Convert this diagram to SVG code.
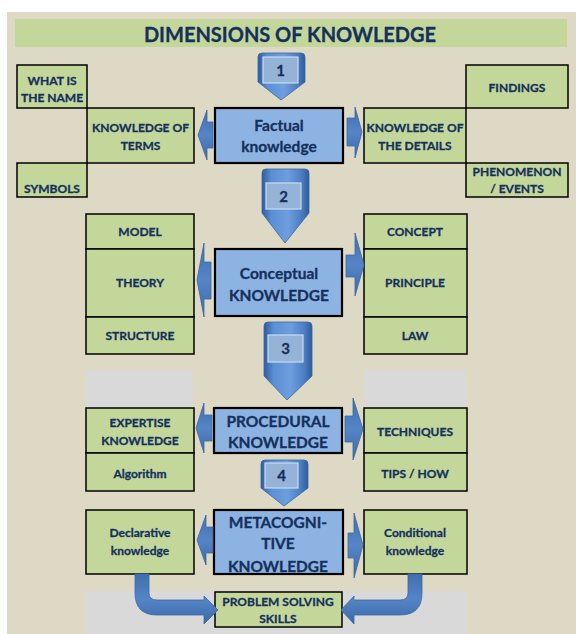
<svg xmlns="http://www.w3.org/2000/svg" width="576" height="634" viewBox="0 0 576 634">
<defs>
<linearGradient id="dg" x1="0" y1="0" x2="1" y2="0">
<stop offset="0" stop-color="#2e5c9c"/>
<stop offset="0.2" stop-color="#5a8fd4"/>
<stop offset="0.55" stop-color="#6d9fe0"/>
<stop offset="0.85" stop-color="#4a7cc0"/>
<stop offset="1" stop-color="#2e5c9c"/>
</linearGradient>
<linearGradient id="sg" x1="0" y1="0" x2="0" y2="1">
<stop offset="0" stop-color="#3f6fae"/>
<stop offset="0.5" stop-color="#5585c6"/>
<stop offset="1" stop-color="#3a69a8"/>
</linearGradient>
<style>
.t{font-family:Lato,"Liberation Sans",sans-serif;font-weight:bold;fill:#15305c;stroke:#15305c;stroke-width:0.3;text-anchor:middle}
.s{font-size:12px}
.m{font-size:15.5px}
.g{fill:#c4d79b;stroke:#000;stroke-width:1.5}
.b{fill:#8db3e2;stroke:#000;stroke-width:2.2}
.gr{fill:#d9d9d9}
.da{fill:url(#dg);stroke:#3a68a6;stroke-width:0.8}
.lab{fill:#95b3d7;stroke:#c9daf0;stroke-width:1.2}
.n{font-size:15px}
.sa{fill:url(#sg);stroke:#3d6aa5;stroke-width:0.8}
</style>
</defs>
<rect x="0" y="0" width="576" height="634" fill="#ffffff"/>
<rect x="7" y="12" width="569" height="622" fill="#ddd9c4"/>
<rect class="gr" x="86" y="370" width="107" height="37"/>
<rect class="gr" x="364" y="370" width="102" height="37"/>
<rect class="gr" x="86" y="591" width="380" height="43"/>

<g id="title">
<rect x="15" y="19" width="552" height="28" fill="#c4d79b"/>
<text class="t" x="290" y="42" font-size="20">DIMENSIONS OF KNOWLEDGE</text>
</g>

<g id="what-is-the-name"><rect class="g" x="17" y="65" width="70" height="43"/><text class="t s" x="52" y="85">WHAT IS</text><text class="t s" x="52" y="102">THE NAME</text></g>
<g id="knowledge-of-terms"><rect class="g" x="87" y="108" width="107" height="55"/><text class="t s" x="140.5" y="132">KNOWLEDGE OF</text><text class="t s" x="140.5" y="150">TERMS</text></g>
<g id="symbols"><rect class="g" x="17" y="163" width="70" height="34"/><text class="t s" x="52" y="193">SYMBOLS</text></g>
<g id="findings"><rect class="g" x="466" y="65" width="102" height="43"/><text class="t s" x="517" y="92">FINDINGS</text></g>
<g id="knowledge-of-details"><rect class="g" x="364" y="108" width="102" height="55"/><text class="t s" x="415" y="132">KNOWLEDGE OF</text><text class="t s" x="415" y="150">THE DETAILS</text></g>
<g id="phenomenon"><rect class="g" x="466" y="163" width="102" height="34"/><text class="t s" x="517" y="176">PHENOMENON</text><text class="t s" x="517" y="193">/ EVENTS</text></g>
<g id="factual"><rect class="b" x="215" y="108" width="128" height="55"/><text class="t m" x="279" y="131">Factual</text><text class="t m" x="279" y="152">knowledge</text></g>

<g id="model"><rect class="g" x="86" y="214" width="108" height="35"/><text class="t s" x="140" y="236">MODEL</text></g>
<g id="theory"><rect class="g" x="86" y="249" width="108" height="68"/><text class="t s" x="140" y="287">THEORY</text></g>
<g id="structure"><rect class="g" x="86" y="317" width="108" height="37"/><text class="t s" x="140" y="340">STRUCTURE</text></g>
<g id="concept"><rect class="g" x="364" y="214" width="103" height="35"/><text class="t s" x="415" y="236">CONCEPT</text></g>
<g id="principle"><rect class="g" x="364" y="249" width="103" height="68"/><text class="t s" x="415" y="287">PRINCIPLE</text></g>
<g id="law"><rect class="g" x="364" y="317" width="103" height="37"/><text class="t s" x="415" y="340">LAW</text></g>
<g id="conceptual"><rect class="b" x="215" y="249" width="127" height="67"/><text class="t m" x="279" y="279">Conceptual</text><text class="t m" x="279" y="301">KNOWLEDGE</text></g>

<g id="expertise"><rect class="g" x="86" y="408" width="108" height="45"/><text class="t s" x="140" y="427">EXPERTISE</text><text class="t s" x="140" y="445">KNOWLEDGE</text></g>
<g id="algorithm"><rect class="g" x="86" y="453" width="108" height="38"/><text class="t s" x="140" y="478">Algorithm</text></g>
<g id="techniques"><rect class="g" x="364" y="408" width="103" height="45"/><text class="t s" x="415" y="436">TECHNIQUES</text></g>
<g id="tips-how"><rect class="g" x="364" y="453" width="103" height="38"/><text class="t s" x="415" y="478">TIPS / HOW</text></g>
<g id="procedural"><rect class="b" x="214" y="408" width="128" height="45"/><text class="t m" x="278" y="427">PROCEDURAL</text><text class="t m" x="278" y="448">KNOWLEDGE</text></g>

<g id="declarative"><rect class="g" x="86" y="510" width="108" height="64"/><text class="t s" x="140" y="537">Declarative</text><text class="t s" x="140" y="555">knowledge</text></g>
<g id="conditional"><rect class="g" x="364" y="510" width="103" height="64"/><text class="t s" x="415" y="537">Conditional</text><text class="t s" x="415" y="555">knowledge</text></g>
<g id="metacognitive"><rect class="b" x="214" y="510" width="129" height="64"/><text class="t m" x="278" y="528">METACOGNI-</text><text class="t m" x="278" y="549">TIVE</text><text class="t m" x="278" y="572">KNOWLEDGE</text></g>
<g id="problem-solving"><rect class="g" x="215" y="592" width="127" height="35"/><text class="t s" x="278" y="606">PROBLEM SOLVING</text><text class="t s" x="278" y="623">SKILLS</text></g>

<g id="connectors">
<g id="step1"><path class="da" d="M258,57 Q258,53 262,53 L301,53 Q305,53 305,57 L305,82 L281,100 L258,82 Z"/><rect class="lab" x="263" y="57" width="35" height="26"/><text class="t n" x="280.5" y="76">1</text></g>
<g id="step2"><path class="da" d="M262,173 Q262,169 266,169 L305,169 Q309,169 309,173 L309,213 L285,243 L262,213 Z"/><rect class="lab" x="266" y="183" width="35" height="26"/><text class="t n" x="283.5" y="202">2</text></g>
<g id="step3"><path class="da" d="M264,326 Q264,322 268,322 L308,322 Q312,322 312,326 L312,376 L287,400 L264,376 Z"/><rect class="lab" x="268" y="335" width="35" height="27"/><text class="t n" x="285.5" y="354">3</text></g>
<g id="step4"><path class="da" d="M261,464 Q261,460 265,460 L304,460 Q308,460 308,464 L308,488 L284,506 L261,488 Z"/><rect class="lab" x="265" y="463" width="33" height="25"/><text class="t n" x="281.5" y="481">4</text></g>

<path class="sa" d="M198,135 L207,110 L207,122 L213,122 L213,148 L207,148 L207,160 Z"/>
<path class="sa" d="M362,132 L355,107 L355,118 L347,118 L347,146 L355,146 L355,158 Z"/>
<path class="sa" d="M197,280 L204,243 L204,262 L211,262 L211,299 L204,299 L204,317 Z"/>
<path class="sa" d="M364,265 L355,233 L355,255 L346,255 L346,277 L355,277 L355,296 Z"/>
<path class="sa" d="M196,428 L204,403 L204,415 L212,415 L212,441 L204,441 L204,453 Z"/>
<path class="sa" d="M363,429 L353,398 L353,416 L345,416 L345,442 L353,442 L353,460 Z"/>
<path class="sa" d="M197,540 L206,515 L206,527 L213,527 L213,553 L206,553 L206,565 Z"/>
<path class="sa" d="M363,545 L354,513 L354,533 L348,533 L348,558 L354,558 L354,578 Z"/>

<path class="sa" d="M135,574 L149,574 L149,593 Q149,600 157,600 L204,600 L204,596 L218,610 L204,624 L204,615 L157,615 Q135,615 135,593 Z"/>
<path class="sa" d="M422,574 L408,574 L408,593 Q408,600 400,600 L354,600 L354,596 L341,610 L354,624 L354,615 L400,615 Q422,615 422,593 Z"/>
</g>
</svg>
